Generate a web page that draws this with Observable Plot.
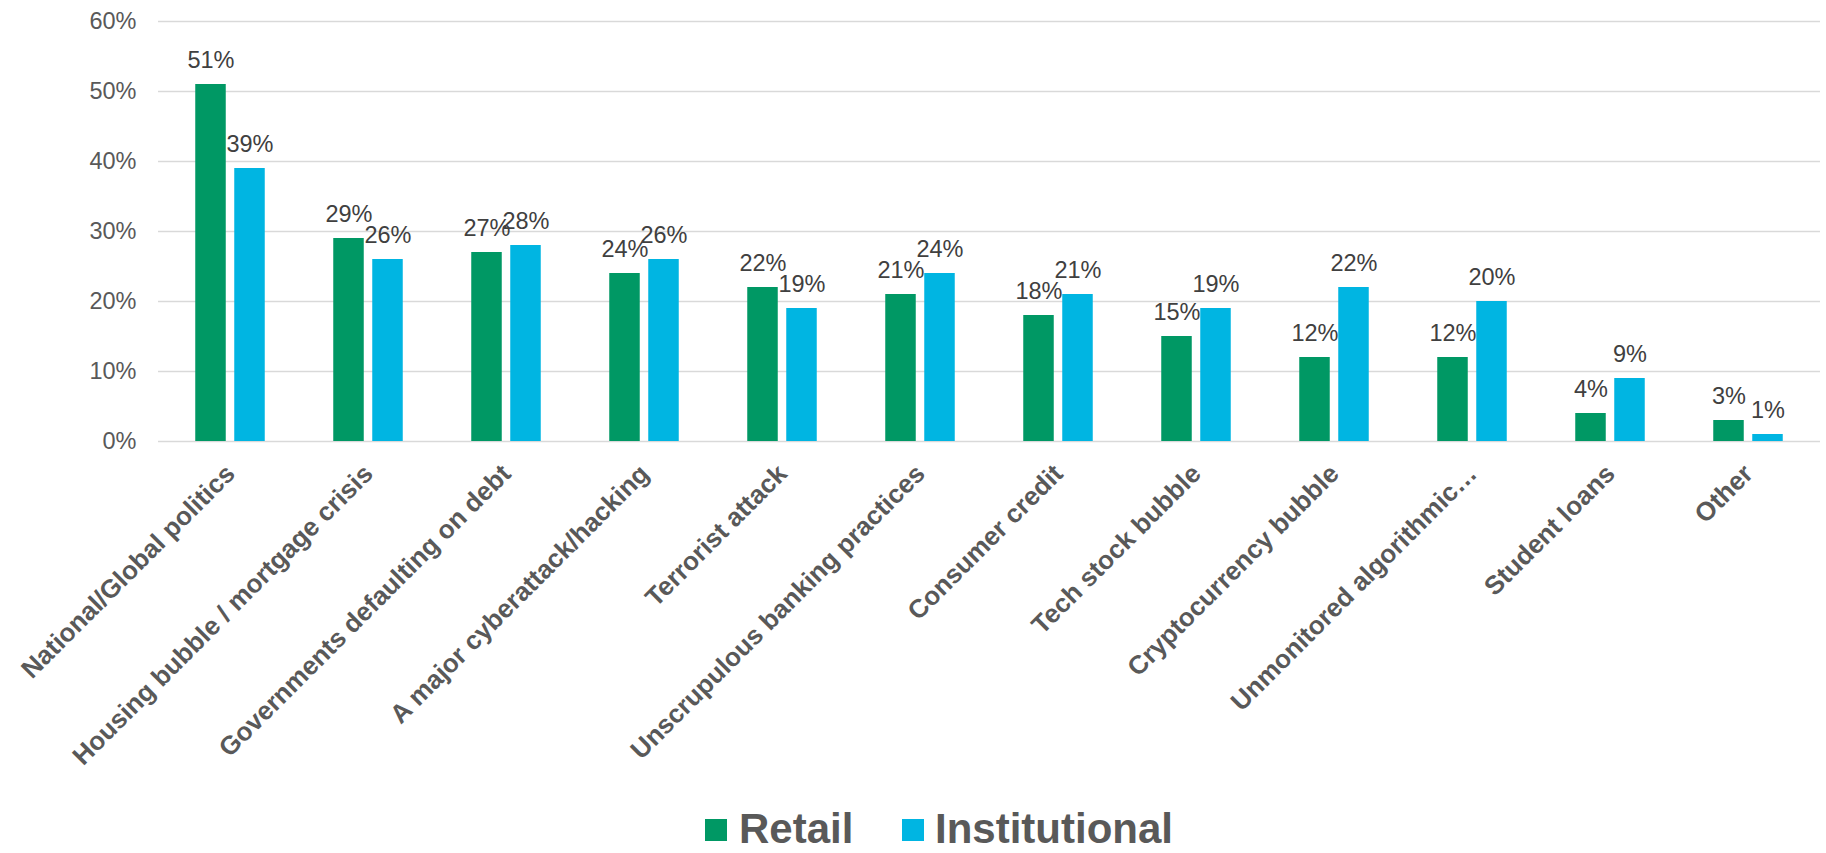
<!DOCTYPE html>
<html>
<head>
<meta charset="utf-8">
<script src="https://cdn.jsdelivr.net/npm/d3@7"></script>
<script src="https://cdn.jsdelivr.net/npm/@observablehq/plot@0.6"></script>
<style>
  html, body { margin: 0; padding: 0; background: #fff; }
  body { width: 1826px; height: 853px; overflow: hidden; font-family: Arial, "Liberation Sans", sans-serif; }
  #legend { position: relative; height: 45px; width: 1826px; }
  .sw { position: absolute; top: 11px; width: 22px; height: 22px; }
  .lt { position: absolute; top: 3.5px; font-size: 42px; line-height: 34px; font-weight: bold; color: #595959; white-space: nowrap; }
</style>
</head>
<body>
<div id="chart"></div>
<div id="legend"></div>
<script>
const categories = [
  "National/Global politics",
  "Housing bubble / mortgage crisis",
  "Governments defaulting on debt",
  "A major cyberattack/hacking",
  "Terrorist attack",
  "Unscrupulous banking practices",
  "Consumer credit",
  "Tech stock bubble",
  "Cryptocurrency bubble",
  "Unmonitored algorithmic…",
  "Student loans",
  "Other"
];
const retail = [51, 29, 27, 24, 22, 21, 18, 15, 12, 12, 4, 3];
const institutional = [39, 26, 28, 26, 19, 24, 21, 19, 22, 20, 9, 1];
const seriesNames = ["Retail", "Institutional"];
const yTicks = [0, 10, 20, 30, 40, 50, 60];

const colors = {"Retail": "#009864", "Institutional": "#00B5E2"};

const retailRows = categories.map((c, i) => ({category: c, series: seriesNames[0], value: retail[i]}));
const instRows = categories.map((c, i) => ({category: c, series: seriesNames[1], value: institutional[i]}));

const W = 1826, H = 808, ML = 158, MR = 6;
const step = (W - ML - MR) / categories.length;
const barW = 31, gap = 8;
const nearInset = step / 2 - gap / 2 - barW;      // outer side inset
const farInset = step - nearInset - barW;          // inner side inset
const labelShift = gap / 2 + barW / 2;

const chart = Plot.plot({
  width: W,
  height: H,
  marginLeft: ML,
  marginRight: MR,
  marginTop: 21,
  marginBottom: 367,
  style: {fontFamily: 'Arial, "Liberation Sans", sans-serif', background: "#fff"},
  x: {domain: categories, padding: 0, axis: null},
  y: {domain: [0, 60], axis: null},
  marks: [
    Plot.ruleY(yTicks, {stroke: "#d9d9d9", strokeWidth: 1.5}),
    Plot.barY(retailRows, {x: "category", y: "value", fill: colors["Retail"], insetLeft: nearInset, insetRight: farInset}),
    Plot.barY(instRows, {x: "category", y: "value", fill: colors["Institutional"], insetLeft: farInset, insetRight: nearInset}),
    Plot.text(retailRows, {x: "category", y: "value", text: d => d.value + "%", dx: -labelShift, dy: -17, lineAnchor: "bottom", fontSize: 23.5, fill: "#404040"}),
    Plot.text(instRows, {x: "category", y: "value", text: d => d.value + "%", dx: labelShift, dy: -17, lineAnchor: "bottom", fontSize: 23.5, fill: "#404040"}),
    Plot.axisY(yTicks, {anchor: "left", label: null, tickSize: 0, tickPadding: 22, tickFormat: d => d + "%", fontSize: 23.5, color: "#595959"}),
    Plot.text(categories, {x: d => d, y: () => 0, text: d => d, rotate: -45, textAnchor: "end", lineAnchor: "middle", dx: 0, dy: 28, fontSize: 26, fontWeight: "bold", fill: "#595959"})
  ]
});
document.getElementById("chart").appendChild(chart);

// Legend (HTML, below the SVG)
const legend = document.getElementById("legend");
const legendPos = [{sw: 705, tx: 739}, {sw: 902, tx: 935}];
seriesNames.forEach((s, i) => {
  const sw = document.createElement("div");
  sw.className = "sw";
  sw.style.left = legendPos[i].sw + "px";
  sw.style.background = colors[s];
  legend.appendChild(sw);
  const t = document.createElement("div");
  t.className = "lt";
  t.style.left = legendPos[i].tx + "px";
  t.textContent = s;
  legend.appendChild(t);
});
</script>
</body>
</html>
